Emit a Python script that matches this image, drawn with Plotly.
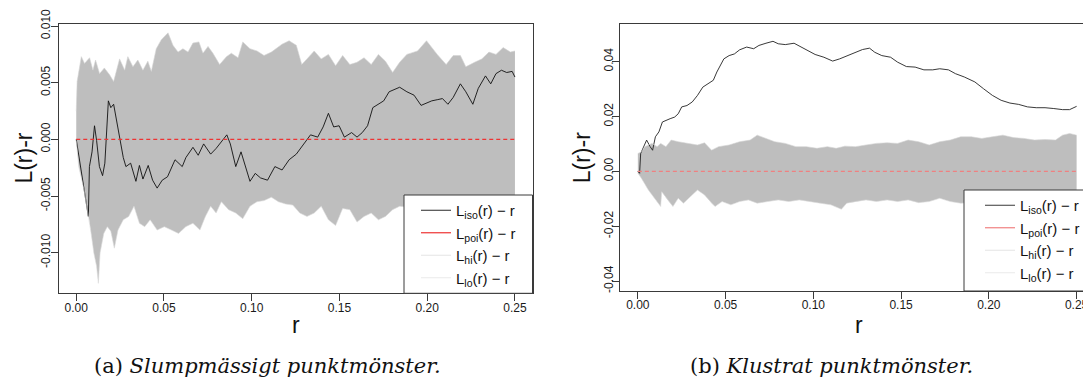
import plotly.graph_objects as go

# ---------------- Panel (a): random pattern ----------------
r_iso_a = [0, 0.0069, 0.0075, 0.009, 0.0104, 0.0116, 0.0132, 0.015, 0.0163, 0.0183, 0.0197, 0.0213,
           0.0268, 0.0283, 0.031, 0.034, 0.036, 0.038, 0.041, 0.0435, 0.0461, 0.049, 0.052, 0.0563,
           0.0604, 0.0625, 0.0665, 0.0695, 0.0726, 0.0766, 0.0797, 0.0827, 0.0858, 0.0878, 0.0909,
           0.0939, 0.096, 0.099, 0.102, 0.105, 0.109, 0.1132, 0.1173, 0.1213, 0.1254, 0.1295, 0.1335,
           0.1376, 0.1407, 0.1437, 0.1467, 0.1498, 0.1528, 0.1569, 0.16, 0.163, 0.166, 0.169, 0.172,
           0.1752, 0.1783, 0.1813, 0.1843, 0.1884, 0.1925, 0.1965, 0.1996, 0.2026, 0.2057, 0.2087,
           0.2118, 0.2148, 0.2189, 0.222, 0.226, 0.2291, 0.2332, 0.2362, 0.2392, 0.2423, 0.2453,
           0.2484, 0.25]
v_iso_a = [0, -0.0068, -0.0024, -0.0011, 0.0012, -0.0001, -0.0024, -0.0032, -0.0021, 0.0034, 0.0028, 0.0031,
           -0.0016, -0.0024, -0.0021, -0.0037, -0.0023, -0.0035, -0.0023, -0.0036, -0.0043, -0.0036, -0.0033, -0.0018,
           -0.0024, -0.0016, -0.0007, -0.0014, -0.0004, -0.0013, -0.0008, -0.0002, 0.0004, -0.0004, -0.0024,
           -0.0011, -0.0021, -0.0037, -0.003, -0.0034, -0.0036, -0.0024, -0.0027, -0.0018, -0.0013, -0.0004, 0.0004,
           0.0002, 0.0011, 0.0023, 0.0011, 0.0012, 0.0002, 0.0006, 0.0002, 0.0006, 0.0012, 0.0028, 0.0031,
           0.0034, 0.0042, 0.0044, 0.0046, 0.0042, 0.0039, 0.003, 0.0032, 0.0034, 0.0035, 0.0036,
           0.0031, 0.0037, 0.0049, 0.0042, 0.0031, 0.0045, 0.0056, 0.0049, 0.0058, 0.0061, 0.0059,
           0.006, 0.0055]

r_hi_a = [0, 0.0005, 0.0029, 0.0047, 0.0076, 0.0095, 0.011, 0.0133, 0.016, 0.019, 0.0213, 0.0247, 0.0276,
          0.0294, 0.0323, 0.0351, 0.038, 0.0408, 0.0428, 0.0456, 0.0485, 0.0523, 0.0551, 0.058, 0.0608,
          0.0637, 0.0665, 0.0699, 0.0722, 0.0751, 0.0779, 0.0817, 0.0856, 0.0884, 0.0922, 0.0949, 0.099,
          0.103, 0.107, 0.1112, 0.1173, 0.1213, 0.1254, 0.1285, 0.1315, 0.1356, 0.1396, 0.1437, 0.1478,
          0.1518, 0.1559, 0.16, 0.164, 0.1681, 0.1722, 0.1762, 0.1803, 0.1843, 0.1884, 0.1945, 0.1996,
          0.2026, 0.2057, 0.2108, 0.2148, 0.2189, 0.222, 0.227, 0.2311, 0.2352, 0.2392, 0.2433, 0.2474, 0.25]
v_hi_a = [0.0025, 0.0051, 0.0073, 0.0067, 0.0072, 0.0061, 0.0070, 0.0058, 0.0063, 0.0057, 0.0051, 0.0071, 0.0061,
          0.0073, 0.0064, 0.0070, 0.0061, 0.0069, 0.0060, 0.0080, 0.0088, 0.0094, 0.0083, 0.0077, 0.0080,
          0.0077, 0.0085, 0.0086, 0.0076, 0.0082, 0.0076, 0.0066, 0.0073, 0.0076, 0.0072, 0.0086, 0.0080,
          0.0078, 0.0074, 0.0077, 0.0084, 0.0087, 0.0083, 0.0066, 0.0071, 0.0078, 0.0071, 0.0075, 0.0065,
          0.0074, 0.0066, 0.0068, 0.0072, 0.0066, 0.0075, 0.0069, 0.0059, 0.0068, 0.0075, 0.0078, 0.0087,
          0.0081, 0.0075, 0.0066, 0.0074, 0.0074, 0.0064, 0.0068, 0.0071, 0.0077, 0.0075, 0.0081, 0.0077, 0.0078]

r_lo_a = [0, 0.0014, 0.0045, 0.0071, 0.0085, 0.01, 0.0116, 0.0126, 0.0136, 0.0157, 0.0177, 0.0197, 0.0217,
          0.0238, 0.0268, 0.0299, 0.0329, 0.036, 0.039, 0.0421, 0.0461, 0.0502, 0.0543, 0.0583, 0.0624,
          0.0665, 0.0705, 0.0736, 0.0766, 0.0797, 0.0827, 0.0868, 0.0909, 0.0949, 0.099, 0.103, 0.1071,
          0.1112, 0.1152, 0.1193, 0.1234, 0.1274, 0.1315, 0.1356, 0.1396, 0.1437, 0.1478, 0.1518, 0.1559,
          0.16, 0.164, 0.1681, 0.1722, 0.1762, 0.1803, 0.1843, 0.19, 0.2, 0.21, 0.22, 0.23, 0.24, 0.25]
v_lo_a = [-0.0001, -0.0024, -0.0045, -0.0068, -0.0083, -0.01, -0.0112, -0.0127, -0.01, -0.0083, -0.0077, -0.0081, -0.0096,
          -0.008, -0.0071, -0.0068, -0.0059, -0.0074, -0.0077, -0.0071, -0.008, -0.0077, -0.008, -0.0083, -0.0077,
          -0.0074, -0.008, -0.0068, -0.0059, -0.0065, -0.0055, -0.0062, -0.0065, -0.007, -0.0059, -0.0055, -0.0054,
          -0.0051, -0.0055, -0.0057, -0.0058, -0.0065, -0.0068, -0.0065, -0.0059, -0.0071, -0.0076, -0.0061, -0.0062,
          -0.0073, -0.0068, -0.0065, -0.0071, -0.0068, -0.0062, -0.0059, -0.006, -0.0062, -0.006, -0.0061, -0.006, -0.006, -0.006]

# ---------------- Panel (b): clustered pattern ----------------
r_iso_b = [0, 0.001, 0.0016, 0.004, 0.005, 0.007, 0.0084, 0.01, 0.012, 0.014, 0.016, 0.0184, 0.021, 0.023,
           0.025, 0.028, 0.031, 0.034, 0.037, 0.04, 0.043, 0.045, 0.047, 0.049, 0.052, 0.055, 0.058, 0.062,
           0.066, 0.069, 0.073, 0.077, 0.08, 0.084, 0.089, 0.093, 0.097, 0.101, 0.106, 0.111, 0.115, 0.12,
           0.124, 0.128, 0.132, 0.135, 0.139, 0.144, 0.148, 0.153, 0.158, 0.163, 0.168, 0.172, 0.177, 0.181,
           0.186, 0.192, 0.197, 0.202, 0.207, 0.212, 0.217, 0.222, 0.227, 0.232, 0.237, 0.242, 0.246, 0.248, 0.25]
v_iso_b = [0, -0.0007, 0.0065, 0.0096, 0.0114, 0.009, 0.0077, 0.0126, 0.0144, 0.018, 0.0186, 0.0192, 0.0198, 0.021,
           0.0235, 0.024, 0.0253, 0.0277, 0.0307, 0.032, 0.0332, 0.0362, 0.0386, 0.041, 0.0422, 0.0428, 0.0443, 0.0453,
           0.0447, 0.0459, 0.0467, 0.0474, 0.0465, 0.0462, 0.0467, 0.0453, 0.0441, 0.0426, 0.0416, 0.0402, 0.041, 0.0422,
           0.0434, 0.0444, 0.0449, 0.0434, 0.0422, 0.0416, 0.0398, 0.0382, 0.038, 0.037, 0.037, 0.0374, 0.037, 0.0356,
           0.0344, 0.0326, 0.0301, 0.0277, 0.0259, 0.0249, 0.0244, 0.0235, 0.0232, 0.0232, 0.0229, 0.0225, 0.0225, 0.0232, 0.0237]

r_hi_b = [0, 0.002, 0.004, 0.008, 0.011, 0.013, 0.016, 0.019, 0.023, 0.028, 0.034, 0.038, 0.042, 0.046, 0.052,
          0.058, 0.064, 0.068, 0.073, 0.078, 0.084, 0.09, 0.096, 0.102, 0.108, 0.113, 0.118, 0.124, 0.13, 0.136,
          0.142, 0.148, 0.154, 0.16, 0.166, 0.172, 0.178, 0.184, 0.19, 0.196, 0.202, 0.208, 0.214, 0.22, 0.226,
          0.232, 0.238, 0.242, 0.246, 0.25]
v_hi_b = [0.0065, 0.0071, 0.009, 0.0102, 0.009, 0.0102, 0.009, 0.0114, 0.0108, 0.0102, 0.0096, 0.0104, 0.0077, 0.009, 0.0096,
          0.0108, 0.0114, 0.0132, 0.012, 0.0108, 0.0102, 0.009, 0.009, 0.0084, 0.009, 0.0084, 0.0092, 0.009, 0.0096, 0.0102,
          0.0104, 0.0102, 0.0114, 0.0108, 0.0096, 0.0108, 0.0114, 0.0126, 0.0126, 0.012, 0.0126, 0.0132, 0.0123, 0.012, 0.0114,
          0.0116, 0.0114, 0.0132, 0.0138, 0.0132]

r_lo_b = [0, 0.002, 0.006, 0.01, 0.013, 0.0136, 0.017, 0.02, 0.023, 0.026, 0.03, 0.034, 0.038, 0.042, 0.044,
          0.048, 0.053, 0.058, 0.063, 0.068, 0.074, 0.08, 0.086, 0.092, 0.098, 0.104, 0.11, 0.116, 0.119, 0.124,
          0.13, 0.136, 0.142, 0.148, 0.154, 0.16, 0.166, 0.172, 0.178, 0.184, 0.2, 0.22, 0.24, 0.25]
v_lo_b = [-0.0007, -0.0025, -0.0068, -0.0104, -0.0128, -0.0074, -0.0104, -0.0128, -0.0098, -0.0116, -0.0092, -0.0068, -0.0086, -0.0116, -0.0128,
          -0.011, -0.0122, -0.011, -0.0104, -0.0116, -0.011, -0.0104, -0.011, -0.0104, -0.011, -0.0116, -0.0122, -0.0138, -0.0116, -0.011,
          -0.0104, -0.011, -0.0104, -0.011, -0.0104, -0.0114, -0.011, -0.0098, -0.011, -0.0116, -0.011, -0.0112, -0.011, -0.0108]

r_theo = [0, 0.25]
v_theo = [0, 0]

x_ticks = [0, 0.05, 0.10, 0.15, 0.20, 0.25]
x_tick_text = ["0.00", "0.05", "0.10", "0.15", "0.20", "0.25"]
y_ticks_a = [-0.010, -0.005, 0.0, 0.005, 0.010]
y_tick_text_a = ["-0.010", "-0.005", "0.000", "0.005", "0.010"]
y_ticks_b = [-0.04, -0.02, 0.0, 0.02, 0.04]
y_tick_text_b = ["-0.04", "-0.02", "0.00", "0.02", "0.04"]

legend_names = ["L<sub>iso</sub>(r) \u2212 r", "L<sub>poi</sub>(r) \u2212 r",
                "L<sub>hi</sub>(r) \u2212 r", "L<sub>lo</sub>(r) \u2212 r"]
captions = ["(a) <i>Slumpm\u00e4ssigt punktm\u00f6nster.</i>", "(b) <i>Klustrat punktm\u00f6nster.</i>"]

W, H = 1091, 380
OX, OY = 8, 8          # the page places the figure 8 px in from the top-left corner
FONT = "Liberation Sans"
ENV = "#bebebe"
FRAME = "#3a3a3a"

fig = go.Figure()


def add_panel(xa, ya, legend, r_iso, v_iso, r_hi, v_hi, r_lo, v_lo, iso_color, poi_color):
    fig.add_trace(go.Scatter(
        x=list(r_hi) + list(r_lo)[::-1], y=list(v_hi) + list(v_lo)[::-1],
        fill="toself", fillcolor=ENV, line=dict(width=0), mode="lines",
        showlegend=False, hoverinfo="skip", xaxis=xa, yaxis=ya))
    fig.add_trace(go.Scatter(x=r_iso, y=v_iso, mode="lines", name=legend_names[0],
                             line=dict(color=iso_color, width=0.9), xaxis=xa, yaxis=ya, legend=legend))
    # dashed theoretical line; its legend key is drawn solid, as in the original
    fig.add_trace(go.Scatter(x=r_theo, y=v_theo, mode="lines", name=legend_names[1], showlegend=False,
                             legendgroup=legend + "poi",
                             line=dict(color=poi_color, width=1.2, dash="4px,3px"), xaxis=xa, yaxis=ya))
    fig.add_trace(go.Scatter(x=[None], y=[None], mode="lines", name=legend_names[1],
                             legendgroup=legend + "poi", hoverinfo="skip",
                             line=dict(color=poi_color, width=1.2), xaxis=xa, yaxis=ya, legend=legend))
    fig.add_trace(go.Scatter(x=r_hi, y=v_hi, mode="lines", name=legend_names[2],
                             line=dict(color="#d3d3d3", width=0.6), xaxis=xa, yaxis=ya, legend=legend))
    fig.add_trace(go.Scatter(x=r_lo, y=v_lo, mode="lines", name=legend_names[3],
                             line=dict(color="#dcdcdc", width=0.6), xaxis=xa, yaxis=ya, legend=legend))


add_panel("x", "y", "legend", r_iso_a, v_iso_a, r_hi_a, v_hi_a, r_lo_a, v_lo_a, "#111111", "#ee3333")
add_panel("x2", "y2", "legend2", r_iso_b, v_iso_b, r_hi_b, v_hi_b, r_lo_b, v_lo_b, "#222222", "#f08080")


def px(x):
    return (x - OX) / W


def py(y):
    return 1 - (y - OY) / H


axis_common = dict(showgrid=False, zeroline=False, showline=True, linecolor=FRAME, linewidth=1,
                   ticks="outside", ticklen=7, tickcolor=FRAME, tickwidth=1,
                   tickfont=dict(family=FONT, size=12, color="#1a1a1a"))

fig.update_layout(
    width=W, height=H, margin=dict(l=0, r=0, t=0, b=0, autoexpand=False),
    paper_bgcolor="white", plot_bgcolor="white",
    xaxis=dict(domain=[px(58.7), px(532.5)], range=[-0.01, 0.26], anchor="y", mirror=True,
               tickvals=x_ticks, ticktext=x_tick_text, ticklabelstandoff=-4, **axis_common),
    yaxis=dict(domain=[py(293.3), py(24)], range=[-0.01358, 0.01018], anchor="x", mirror=True,
               tickvals=y_ticks_a, ticktext=y_tick_text_a, tickangle=-90, ticklabelstandoff=-4,
               **axis_common),
    xaxis2=dict(domain=[px(620.3), px(1091)], range=[-0.01, 0.2582], anchor="y2", mirror=True,
                tickvals=x_ticks, ticktext=x_tick_text, ticklabelstandoff=-4, **axis_common),
    yaxis2=dict(domain=[py(291), py(24.3)], range=[-0.0436, 0.0536], anchor="x2", mirror=False,
                tickvals=y_ticks_b, ticktext=y_tick_text_b, tickangle=-90, ticklabelstandoff=-5,
                **axis_common),
    legend=dict(x=px(416), y=py(194), xanchor="left", yanchor="top", bgcolor="rgba(0,0,0,0)",
                font=dict(family=FONT, size=15, color="#111"), itemwidth=30, tracegroupgap=0,
                traceorder="normal"),
    legend2=dict(x=px(980), y=py(189), xanchor="left", yanchor="top", bgcolor="rgba(0,0,0,0)",
                 font=dict(family=FONT, size=15, color="#111"), itemwidth=30, tracegroupgap=0,
                 traceorder="normal"),
    showlegend=True,
)

fig.add_shape(type="rect", xref="paper", yref="paper", x0=px(404), x1=px(532.5), y0=py(293.3), y1=py(195),
              fillcolor="white", line=dict(color=FRAME, width=1), layer="above")
fig.add_shape(type="rect", xref="paper", yref="paper", x0=px(964), x1=px(1110), y0=py(291), y1=py(190),
              fillcolor="white", line=dict(color=FRAME, width=1), layer="above")

for xc, yc in [(24, 158.6), (581.7, 157.6)]:
    fig.add_annotation(text="L(r)-r", x=px(xc), y=py(yc), xref="paper", yref="paper", showarrow=False,
                       xanchor="center", yanchor="middle", textangle=-90,
                       font=dict(family=FONT, size=23, color="#111"))
for xc in [295.6, 858.5]:
    fig.add_annotation(text="r", x=px(xc), y=py(325), xref="paper", yref="paper", showarrow=False,
                       xanchor="center", yanchor="middle", font=dict(family=FONT, size=23, color="#111"))

for xc, txt in [(267, captions[0]), (831, captions[1])]:
    fig.add_annotation(text=txt, x=px(xc), y=py(366), xref="paper", yref="paper", showarrow=False,
                       xanchor="center", yanchor="middle",
                       font=dict(family="DejaVu Serif", size=21, color="#111"))

fig.write_html("out.html")
